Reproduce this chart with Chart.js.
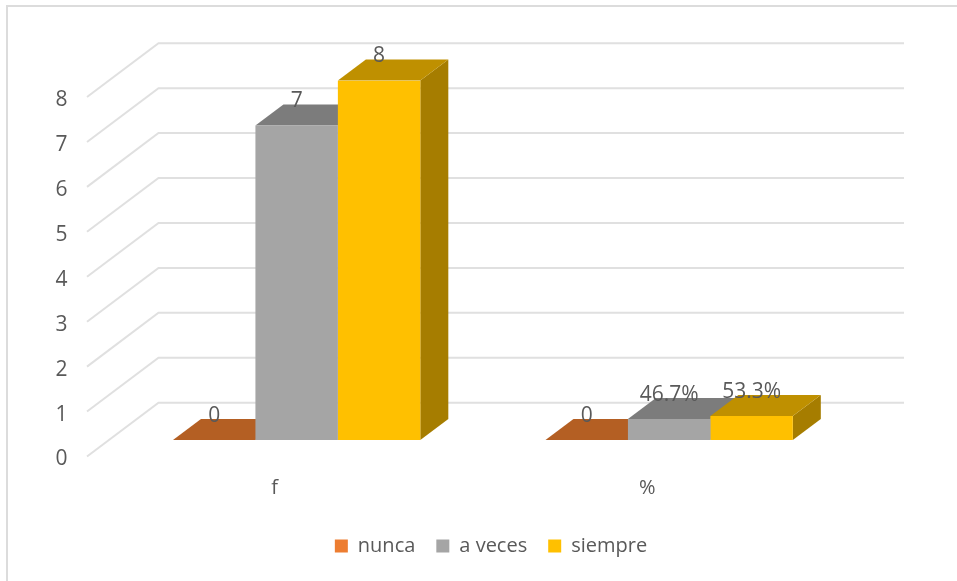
<!DOCTYPE html>
<html>
<head>
<meta charset="utf-8">
<script src="https://cdn.jsdelivr.net/npm/chart.js@4"></script>
<style>
html,body{margin:0;padding:0;background:#fff}
canvas{display:block;filter:blur(0.5px)}
</style>
</head>
<body>
<canvas id="c" width="957" height="581"></canvas>
<script>
const categories = ['f', '%'];
const nunca = [0, 0];
const aVeces = [7, 0.467];
const siempre = [8, 0.533];
const nuncaLabels = ['0', '0'];
const aVecesLabels = ['7', '46.7%'];
const siempreLabels = ['8', '53.3%'];
const yTicks = [0, 1, 2, 3, 4, 5, 6, 7, 8];

const FONT = '"Open Sans", sans-serif';
const TEXT = '#595959';
const GRID = '#E0E0E0';
const DEPTH_X = 28, DEPTH_Y = 21;
const faces = [
  {top: '#B45F23', side: '#8F4C1C', labels: nuncaLabels},
  {top: '#7C7C7C', side: '#7C7C7C', labels: aVecesLabels},
  {top: '#BF9000', side: '#A67D00', labels: siempreLabels}
];

const frame = {
  id: 'frame',
  beforeDraw(chart) {
    const g = chart.ctx;
    g.save();
    g.fillStyle = '#fff';
    g.fillRect(0, 0, chart.width, chart.height);
    g.strokeStyle = '#DCDCDC';
    g.lineWidth = 2;
    g.strokeRect(7, 6, chart.width + 20, chart.height + 20);
    g.restore();
  }
};

const walls = {
  id: 'walls',
  beforeDatasetsDraw(chart) {
    const g = chart.ctx, y = chart.scales.y;
    const backLeft = 158.5, backRight = 904, frontLeft = 87;
    g.save();
    g.strokeStyle = GRID;
    g.lineWidth = 2;
    yTicks.forEach(v => {
      const p = y.getPixelForValue(v);
      g.beginPath();
      g.moveTo(frontLeft, p + 16.5);
      g.lineTo(backLeft, p - 37.3);
      g.lineTo(backRight, p - 37.3);
      g.stroke();
    });
    g.restore();
  }
};

const bars3d = {
  id: 'bars3d',
  beforeDatasetsDraw(chart) {
    const g = chart.ctx;
    const base = chart.scales.y.getPixelForValue(0);
    faces.forEach((f, i) => {
      chart.getDatasetMeta(i).data.forEach(bar => {
        const w = bar.width, l = bar.x - w / 2, r = bar.x + w / 2, t = bar.y;
        g.save();
        g.fillStyle = f.side;
        g.beginPath();
        g.moveTo(r, t); g.lineTo(r + DEPTH_X, t - DEPTH_Y);
        g.lineTo(r + DEPTH_X, base - DEPTH_Y); g.lineTo(r, base);
        g.closePath(); g.fill();
        g.fillStyle = f.top;
        g.beginPath();
        g.moveTo(l, t); g.lineTo(l + DEPTH_X, t - DEPTH_Y);
        g.lineTo(r + DEPTH_X, t - DEPTH_Y); g.lineTo(r, t);
        g.closePath(); g.fill();
        g.restore();
      });
    });
  },
  afterDatasetsDraw(chart) {
    const g = chart.ctx;
    g.save();
    g.font = '21px ' + FONT;
    g.fillStyle = TEXT;
    g.textAlign = 'center';
    g.textBaseline = 'middle';
    faces.forEach((f, i) => {
      chart.getDatasetMeta(i).data.forEach((bar, j) => {
        g.fillText(f.labels[j], bar.x, bar.y - 24);
      });
    });
    g.restore();
  }
};

new Chart(document.getElementById('c'), {
  type: 'bar',
  data: {
    labels: categories,
    datasets: [
      {label: 'nunca', data: nunca, backgroundColor: '#ED7D31'},
      {label: 'a veces', data: aVeces, backgroundColor: '#A5A5A5'},
      {label: 'siempre', data: siempre, backgroundColor: '#FFC000'}
    ]
  },
  plugins: [frame, walls, bars3d],
  options: {
    responsive: false,
    animation: false,
    events: [],
    layout: {padding: {top: 80.5, left: 25, right: 0, bottom: 15}},
    datasets: {bar: {categoryPercentage: 0.664, barPercentage: 1, borderWidth: 0}},
    scales: {
      x: {
        grid: {display: false},
        border: {display: false},
        ticks: {color: TEXT, font: {family: FONT, size: 20}, padding: 28, labelOffset: -22, maxRotation: 0},
        afterFit(s) { s.height = 75; }
      },
      y: {
        min: 0, max: 8,
        grid: {display: false},
        border: {display: false},
        ticks: {stepSize: 1, color: TEXT, font: {family: FONT, size: 21}, padding: 35, labelOffset: 19.5},
        afterFit(s) { s.width = 85.4; }
      },
      yRight: {
        position: 'right',
        min: 0, max: 8,
        grid: {display: false},
        border: {display: false},
        ticks: {display: false},
        afterFit(s) { s.width = 101.6; }
      }
    },
    plugins: {
      tooltip: {enabled: false},
      legend: {
        position: 'bottom',
        labels: {boxWidth: 13, boxHeight: 13, padding: 21, color: TEXT, font: {family: FONT, size: 20}}
      }
    }
  }
});
</script>
</body>
</html>
